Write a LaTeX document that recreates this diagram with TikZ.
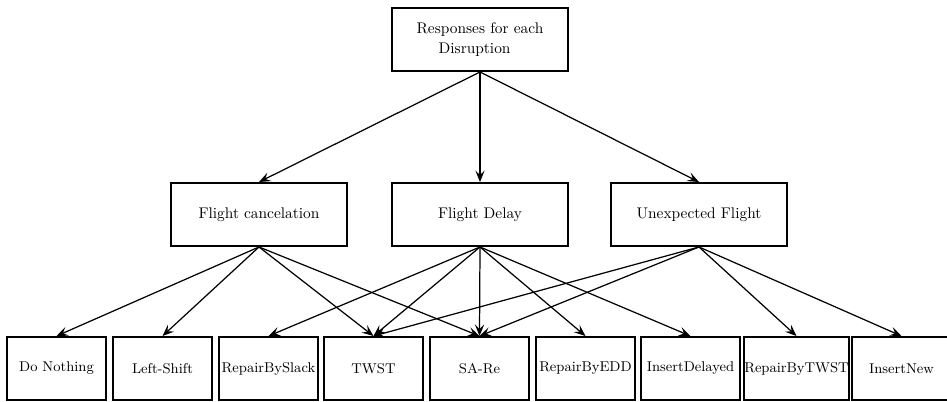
\documentclass[tikz,border=0pt]{standalone}
\usetikzlibrary{arrows.meta}
\begin{document}
\begin{tikzpicture}[x=0.649pt,y=-0.649pt,
  bigbox/.style={draw,line width=1.25pt,minimum width=114.2pt,minimum height=40.9pt,inner sep=0pt,font=\fontsize{10}{12.5}\selectfont,align=center},
  smallbox/.style={draw,line width=1.25pt,minimum width=64.3pt,minimum height=40.9pt,inner sep=0pt,font=\fontsize{9.2}{11}\selectfont},
  arr/.style={line width=0.8pt,-{Stealth[length=7.5pt,width=6pt,inset=3pt]}}]
\useasboundingbox (0,0) rectangle (947,401);
\node[bigbox] (root) at (480,39.5) {Responses for each\\Disruption\hspace*{7pt}};
\node[bigbox] (fc) at (259,214.5) {Flight cancelation};
\node[bigbox] (fd) at (480,214.5) {Flight Delay};
\node[bigbox] (uf) at (699,214.5) {Unexpected Flight};
\node[smallbox] (dn) at (56.5,368.5) {Do Nothing};
\node[smallbox] (ls) at (162.5,368.5) {Left-Shift};
\node[smallbox] (rs) at (268.5,368.5) {RepairBySlack};
\node[smallbox] (tw) at (373.5,368.5) {TWST};
\node[smallbox] (sa) at (479.5,368.5) {SA-Re};
\node[smallbox] (re) at (585.5,368.5) {RepairByEDD};
\node[smallbox] (id) at (690.5,368.5) {InsertDelayed};
\node[smallbox] (rt) at (796.5,368.5) {RepairByTWST};
\node[smallbox] (in) at (901.5,368.5) {InsertNew};
\foreach \t in {fc,fd,uf} \draw[arr] (root.south) -- (\t.north);
\foreach \t in {dn,ls,tw,sa} \draw[arr] (fc.south) -- (\t.north);
\foreach \t in {rs,tw,sa,re,id} \draw[arr] (fd.south) -- (\t.north);
\foreach \t in {tw,sa,rt,in} \draw[arr] (uf.south) -- (\t.north);
\end{tikzpicture}
\end{document}
